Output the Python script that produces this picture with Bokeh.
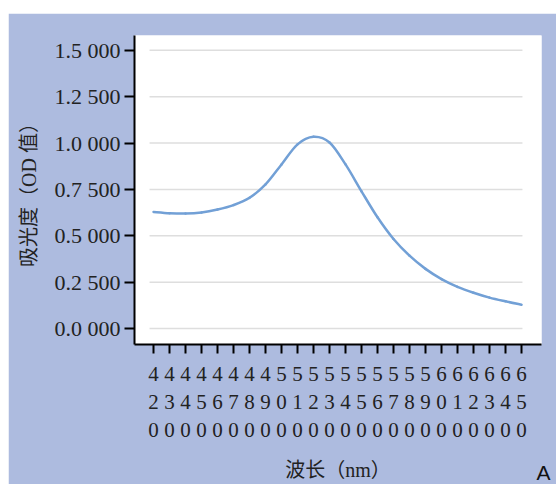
from bokeh.plotting import figure
from bokeh.models import FixedTicker, Range1d, Title
from bokeh.embed import file_html
from bokeh.resources import INLINE

wavelengths = [420, 430, 440, 450, 460, 470, 480, 490, 500, 510, 520, 530,
               540, 550, 560, 570, 580, 590, 600, 610, 620, 630, 640, 650]
absorbance = [0.629, 0.622, 0.620, 0.626, 0.642, 0.666, 0.705, 0.777, 0.885, 0.993, 1.034, 1.003,
              0.885, 0.740, 0.600, 0.483, 0.393, 0.322, 0.267, 0.225, 0.193, 0.167, 0.147, 0.129]
y_ticks = [0.0, 0.25, 0.5, 0.75, 1.0, 1.25, 1.5]
y_tick_labels = ["0.0 000", "0.2 500", "0.5 000", "0.7 500", "1.0 000", "1.2 500", "1.5 000"]
x_tick_labels = ["\n".join(str(w)) for w in wavelengths]
panel_tag = "A"

BG = "#adbbdf"
SERIF = "'Liberation Serif', 'Noto Sans CJK SC'"

p = figure(width=548, height=471, output_backend="svg", toolbar_location=None,
           x_range=Range1d(408.1, 662.5), y_range=Range1d(-0.0857, 1.580),
           min_border_left=126, min_border_right=15, min_border_top=22, min_border_bottom=138)
p.margin = (13, 0, 0, 8)
p.border_fill_color = BG
p.background_fill_color = "white"
p.outline_line_color = None
p.xgrid.visible = False
p.ygrid.visible = False

# horizontal gridlines spanning the data extent
p.segment(x0=[wavelengths[0] - 2.5] * len(y_ticks), x1=[wavelengths[-1] + 0.6] * len(y_ticks),
          y0=y_ticks, y1=y_ticks, line_color="#dedede", line_width=1.5)

# smoothed line through the data points (cubic Bezier segments, like a spreadsheet "smoothed line")
n = len(wavelengths)
xs, ys = wavelengths, absorbance
x0, y0, x1, y1, cx0, cy0, cx1, cy1 = [], [], [], [], [], [], [], []
for i in range(n - 1):
    xp, yp = (xs[i - 1], ys[i - 1]) if i > 0 else (xs[i], ys[i])
    xn, yn = (xs[i + 2], ys[i + 2]) if i + 2 < n else (xs[i + 1], ys[i + 1])
    x0.append(xs[i]); y0.append(ys[i]); x1.append(xs[i + 1]); y1.append(ys[i + 1])
    cx0.append(xs[i] + (xs[i + 1] - xp) / 6); cy0.append(ys[i] + (ys[i + 1] - yp) / 6)
    cx1.append(xs[i + 1] - (xn - xs[i]) / 6); cy1.append(ys[i + 1] - (yn - ys[i]) / 6)
p.bezier(x0=x0, y0=y0, x1=x1, y1=y1, cx0=cx0, cy0=cy0, cx1=cx1, cy1=cy1,
         line_color="#72a0d6", line_width=2.5, line_cap="round")

xa = p.xaxis[0]
xa.ticker = FixedTicker(ticks=wavelengths)
xa.major_label_overrides = {w: lab for w, lab in zip(wavelengths, x_tick_labels)}
xa.minor_tick_line_color = None
xa.axis_line_width = 2
xa.axis_line_color = "black"
xa.major_tick_line_width = 2
xa.major_tick_line_color = "black"
xa.major_tick_out = 9
xa.major_tick_in = 0
xa.major_label_text_font = "Liberation Serif"
xa.major_label_text_font_size = "21px"
xa.major_label_text_color = "#222222"
xa.major_label_text_line_height = 1.18
xa.major_label_standoff = 8
xa.axis_label = "波长（nm）"
xa.axis_label_text_font = SERIF
xa.axis_label_text_font_size = "20px"
xa.axis_label_text_font_style = "normal"
xa.axis_label_text_color = "#222222"
xa.axis_label_standoff = 14

ya = p.yaxis[0]
ya.ticker = FixedTicker(ticks=y_ticks)
ya.major_label_overrides = {t: lab for t, lab in zip(y_ticks, y_tick_labels)}
ya.minor_tick_line_color = None
ya.axis_line_width = 2
ya.axis_line_color = "black"
ya.major_tick_line_width = 2
ya.major_tick_line_color = "black"
ya.major_tick_out = 10
ya.major_tick_in = 0
ya.major_label_text_font = "Liberation Serif"
ya.major_label_text_font_size = "22px"
ya.major_label_text_color = "#222222"
ya.major_label_standoff = 4
ya.axis_label = "吸光度（OD 值）"
ya.axis_label_text_font = SERIF
ya.axis_label_text_font_size = "20px"
ya.axis_label_text_font_style = "normal"
ya.axis_label_text_color = "#222222"
ya.axis_label_standoff = 12

p.add_layout(Title(text=panel_tag, align="right", vertical_align="top", standoff=-48, offset=-9,
                   text_font="Liberation Sans", text_font_size="21px",
                   text_font_style="normal", text_color="#111111"), "below")

open("out.html", "w").write(file_html(p, INLINE))
